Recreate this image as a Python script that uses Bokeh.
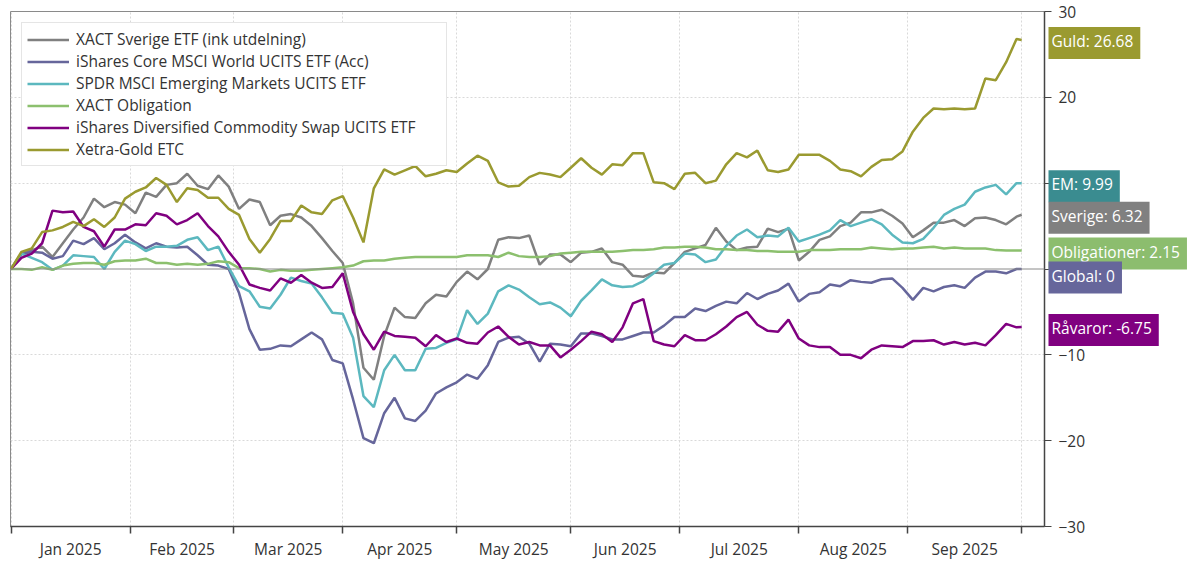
import pandas as pd
from bokeh.plotting import figure
from bokeh.layouts import row
from bokeh.models import Range1d, FixedTicker, Span, Label, Legend, LegendItem
from bokeh.embed import file_html
from bokeh.resources import INLINE

# ---- data -------------------------------------------------------------
all_days = pd.bdate_range("2025-01-01", "2025-10-01")      # weekday axis
sample_pos = list(range(0, len(all_days) - 1, 2)) + [len(all_days) - 1]

series_names = [
    "XACT Sverige ETF (ink utdelning)",
    "iShares Core MSCI World UCITS ETF (Acc)",
    "SPDR MSCI Emerging Markets UCITS ETF",
    "XACT Obligation",
    "iShares Diversified Commodity Swap UCITS ETF",
    "Xetra-Gold ETC",
]
short_names = ["Sverige", "Global", "EM", "Obligationer", "Råvaror", "Guld"]

sverige = [0, 1.8, 2.2, 2.6, 1.4, 3.0, 4.6, 6.0, 8.2, 7.2,
           7.8, 7.5, 6.5, 8.9, 8.4, 9.8, 10.0, 11.1, 9.7, 9.3,
           10.9, 9.6, 7.0, 8.1, 7.8, 5.1, 6.2, 6.4, 6.0, 5.0,
           3.6, 2.1, 0.7, -4.0, -11.5, -12.9, -7.8, -4.5, -5.6, -5.7,
           -4.0, -3.0, -3.2, -1.5, -0.3, -1.2, 0.0, 3.4, 3.7, 3.6,
           3.9, 0.5, 1.7, 1.7, 0.8, 1.9, 2.0, 2.4, 0.8, 0.5,
           -0.8, -0.9, -0.4, -0.5, 0.7, 2.0, 2.4, 2.8, 4.8, 3.2,
           2.2, 2.5, 2.6, 4.7, 4.3, 4.7, 1.0, 2.0, 3.4, 3.8,
           5.0, 5.4, 6.6, 6.6, 6.9, 6.2, 5.3, 3.7, 4.5, 5.4,
           5.4, 5.7, 5.0, 5.9, 6.0, 5.7, 5.2, 6.1, 6.32]
global_ = [0, 1.7, 2.0, 1.9, 1.2, 1.5, 3.3, 2.9, 3.6, 2.3,
           3.0, 4.0, 3.1, 2.4, 3.0, 2.6, 2.5, 2.6, 1.6, 0.5,
           0.4, 0.0, -2.8, -7.0, -9.4, -9.3, -8.9, -9.0, -8.2, -7.4,
           -8.2, -10.6, -11.0, -15.2, -19.7, -20.3, -16.8, -15.0, -17.4, -17.7,
           -16.5, -14.5, -13.8, -13.2, -12.3, -12.8, -11.2, -8.5, -8.0, -7.9,
           -8.7, -10.8, -8.7, -8.8, -9.0, -7.5, -7.5, -7.8, -8.2, -8.2,
           -7.8, -7.4, -7.4, -6.6, -5.6, -5.6, -4.6, -4.9, -4.3, -3.8,
           -4.0, -2.8, -3.5, -2.9, -2.5, -1.7, -3.8, -2.9, -2.7, -1.8,
           -2.0, -1.3, -1.5, -1.6, -1.2, -1.1, -2.2, -3.6, -2.2, -2.6,
           -2.1, -1.9, -2.2, -1.0, -0.3, -0.3, -0.5, 0.0, 0]
em = [0, 1.8, 1.3, 0.8, -0.1, 0.4, 1.6, 1.5, 1.4, 0.0,
      2.0, 3.3, 2.9, 2.1, 2.6, 2.6, 2.7, 3.4, 3.7, 2.2,
      2.6, 0.2, -2.0, -2.6, -4.4, -4.6, -3.0, -1.0, -1.4, -1.7,
      -3.3, -5.1, -5.2, -8.0, -14.8, -16.1, -11.8, -10.0, -11.8, -11.8,
      -9.3, -9.2, -8.6, -8.2, -4.8, -6.4, -5.2, -2.6, -1.9, -2.4,
      -3.3, -4.1, -3.9, -4.5, -5.5, -3.7, -2.5, -1.2, -1.9, -2.1,
      -2.0, -1.4, -0.5, 0.5, 0.7, 1.8, 1.7, 0.8, 1.1, 2.7,
      3.9, 4.6, 3.7, 3.9, 3.8, 4.8, 3.2, 3.6, 4.0, 4.5,
      5.7, 5.0, 5.4, 5.8, 5.2, 4.0, 3.1, 3.0, 3.5, 4.8,
      6.3, 7.0, 7.5, 9.0, 9.5, 9.8, 8.7, 10.0, 9.99]
oblig = [0, 0.0, -0.1, 0.2, -0.1, 0.4, 0.6, 0.7, 0.7, 0.5,
         0.9, 1.0, 1.0, 1.2, 0.7, 0.7, 0.5, 0.6, 0.5, 0.6,
         0.9, 0.8, 0.1, 0.1, 0.0, -0.3, -0.1, -0.2, -0.2, -0.1,
         0.0, 0.1, 0.2, 0.4, 0.9, 1.0, 1.0, 1.2, 1.3, 1.4,
         1.4, 1.4, 1.4, 1.4, 1.6, 1.6, 1.6, 1.4, 1.9, 1.5,
         1.4, 1.4, 1.5, 1.8, 1.9, 2.0, 2.0, 2.0, 2.0, 2.1,
         2.2, 2.2, 2.3, 2.5, 2.5, 2.6, 2.6, 2.5, 2.3, 2.3,
         2.2, 2.2, 2.1, 2.1, 2.0, 2.0, 2.0, 2.2, 2.2, 2.2,
         2.3, 2.3, 2.3, 2.5, 2.4, 2.3, 2.4, 2.4, 2.5, 2.6,
         2.4, 2.5, 2.4, 2.4, 2.4, 2.2, 2.15, 2.15, 2.15]
ravaror = [0, 1.3, 1.8, 3.0, 6.8, 6.6, 6.7, 4.9, 4.4, 2.6,
           4.6, 4.6, 5.2, 5.1, 6.5, 6.2, 5.2, 5.7, 6.5, 5.0,
           3.8, 2.0, 0.5, -1.8, -2.2, -2.5, -1.1, -1.6, -0.7, -1.6,
           -2.2, -2.1, -0.5, -5.0, -7.6, -9.4, -7.3, -7.8, -7.9, -8.0,
           -9.0, -7.7, -8.5, -8.1, -8.6, -8.7, -7.4, -6.7, -7.9, -8.8,
           -8.5, -8.9, -8.9, -10.3, -9.4, -8.4, -7.3, -7.6, -8.5, -6.8,
           -4.0, -3.5, -8.4, -8.8, -9.0, -7.7, -8.3, -8.3, -7.6, -6.7,
           -5.6, -5.0, -6.5, -7.2, -7.3, -5.9, -8.1, -8.9, -9.1, -9.1,
           -10.0, -10.0, -10.4, -9.4, -8.9, -9.0, -9.1, -8.4, -8.4, -8.3,
           -8.8, -8.5, -8.8, -8.6, -8.9, -7.7, -6.4, -6.8, -6.75]
guld = [0, 2.0, 2.4, 4.3, 4.5, 4.9, 5.5, 5.0, 5.8, 4.9,
        6.0, 8.2, 9.0, 9.5, 10.6, 9.8, 7.8, 9.4, 9.2, 8.3,
        8.3, 7.0, 6.3, 3.5, 1.9, 3.5, 5.6, 5.6, 7.4, 6.6,
        6.4, 8.0, 8.5, 6.0, 3.1, 9.4, 11.6, 11.0, 11.5, 12.0,
        10.8, 11.1, 11.5, 11.3, 12.3, 13.2, 12.6, 10.1, 9.6, 9.7,
        10.7, 11.2, 11.0, 10.7, 11.8, 12.9, 11.8, 11.0, 12.2, 12.1,
        13.5, 13.5, 10.1, 10.0, 9.3, 11.1, 11.2, 10.0, 10.3, 12.2,
        13.5, 13.0, 13.8, 11.5, 11.3, 11.6, 13.3, 13.3, 13.3, 12.6,
        11.6, 11.4, 10.8, 11.9, 12.7, 12.8, 13.7, 16.0, 17.6, 18.7,
        18.6, 18.7, 18.6, 18.7, 22.2, 22.0, 24.1, 26.8, 26.68]

all_series = [sverige, global_, em, oblig, ravaror, guld]
line_colors = ["#808080", "#66669b", "#5cb8bf", "#8cc06e", "#800080", "#9a9a30"]
label_colors = ["#808080", "#66669b", "#3a8c90", "#8cbd6e", "#800080", "#9a9a30"]

y_ticks = [-30, -20, -10, 0, 10, 20, 30]

# ---- month ticks on the weekday axis ------------------------------------
month_starts = pd.date_range("2025-01-01", "2025-10-01", freq="MS")
bounds = [int((all_days >= m).argmax()) for m in month_starts]
mids = [(a + b) / 2 for a, b in zip(bounds[:-1], bounds[1:])]
mid_labels = {m: d.strftime("%b %Y") for m, d in zip(mids, month_starts[:-1])}

X_END = 199.4
FONT = "Open Sans"
FRAME_W, FRAME_H = 1034, 515
TOP, LEFT, RIGHT = 11, 10, 50

yr = Range1d(-30, 30)
p = figure(frame_width=FRAME_W, frame_height=FRAME_H,
           x_range=Range1d(-0.1, X_END), y_range=yr,
           y_axis_location="right", output_backend="svg", toolbar_location=None,
           min_border_left=LEFT, min_border_top=TOP, min_border_right=RIGHT,
           min_border_bottom=20)
p.outline_line_color = "#8a8a8a"
p.outline_line_width = 1

# grid
p.xgrid.ticker = FixedTicker(ticks=bounds)
p.ygrid.ticker = FixedTicker(ticks=[-20, -10, 10, 20])
for g in (p.xgrid, p.ygrid):
    g.grid_line_color = "#d9d9d9"
    g.grid_line_dash = "2 2"
    g.grid_line_width = 1

p.add_layout(Span(location=0, dimension="width", line_color="#8a8a8a", line_width=1))

# x axis
xa = p.xaxis[0]
xa.ticker = FixedTicker(ticks=mids, minor_ticks=bounds)
xa.major_label_overrides = mid_labels
xa.major_tick_out = 0
xa.major_tick_in = 0
xa.minor_tick_out = 7
xa.minor_tick_in = 0
xa.minor_tick_line_color = "#444444"
xa.minor_tick_line_width = 1.5
xa.axis_line_color = "#444444"
xa.axis_line_width = 1.5
xa.major_label_standoff = 4
xa.major_label_text_font = FONT
xa.major_label_text_font_size = "15.5px"
xa.major_label_text_color = "#333333"

# y axis
ya = p.yaxis[0]
ya.ticker = FixedTicker(ticks=y_ticks)
ya.major_tick_out = 7
ya.major_tick_in = 0
ya.minor_tick_out = 0
ya.minor_tick_in = 0
ya.major_tick_line_color = "#444444"
ya.axis_line_color = "#444444"
ya.axis_line_width = 1.5
ya.major_label_standoff = 7
ya.major_label_text_font = FONT
ya.major_label_text_font_size = "15.5px"
ya.major_label_text_color = "#333333"

# lines
items = []
for name, vals, col in zip(series_names, all_series, line_colors):
    r = p.line(sample_pos, vals, line_color=col, line_width=2.5)
    items.append(LegendItem(label=name, renderers=[r]))

legend = Legend(items=items, location="top_left")
legend.label_text_font = FONT
legend.label_text_font_size = "15.5px"
legend.label_text_color = "#333333"
legend.border_line_color = "#cccccc"
legend.border_line_width = 1
legend.background_fill_color = "white"
legend.background_fill_alpha = 1
legend.padding = 5
legend.spacing = 0
legend.label_height = 21
legend.glyph_height = 21
legend.glyph_width = 42
legend.label_width = 365
legend.label_standoff = 7
legend.margin = 11
p.add_layout(legend)

# ---- end-value tags: transparent strip laid over the right axis -----------
tags = figure(frame_width=145, frame_height=FRAME_H,
              x_range=Range1d(0, 145), y_range=yr,
              x_axis_location=None, y_axis_location=None,
              output_backend="svg", toolbar_location=None,
              min_border_left=0, min_border_right=0,
              min_border_top=TOP, min_border_bottom=0,
              margin=(0, 0, 0, -RIGHT))
tags.grid.visible = False
tags.outline_line_color = None
tags.background_fill_alpha = 0
tags.border_fill_alpha = 0

px_per_unit = FRAME_H / 60.0
order = sorted(range(len(all_series)), key=lambda i: -all_series[i][-1])
prev = None
for i in order:
    last = all_series[i][-1]
    yl = last - 3 / px_per_unit
    if prev is not None and yl > prev - 24 / px_per_unit:
        yl = prev - 24 / px_per_unit
    prev = yl
    tags.add_layout(Label(x=4, y=yl, text=f"{short_names[i]}: {last:g}",
                          text_baseline="middle", text_align="left",
                          text_font=FONT, text_font_size="15.5px", text_color="white",
                          background_fill_color=label_colors[i], background_fill_alpha=1,
                          padding=(3, 7, 3, 7)))

layout = row(p, tags)
open("out.html", "w").write(file_html(layout, INLINE))
